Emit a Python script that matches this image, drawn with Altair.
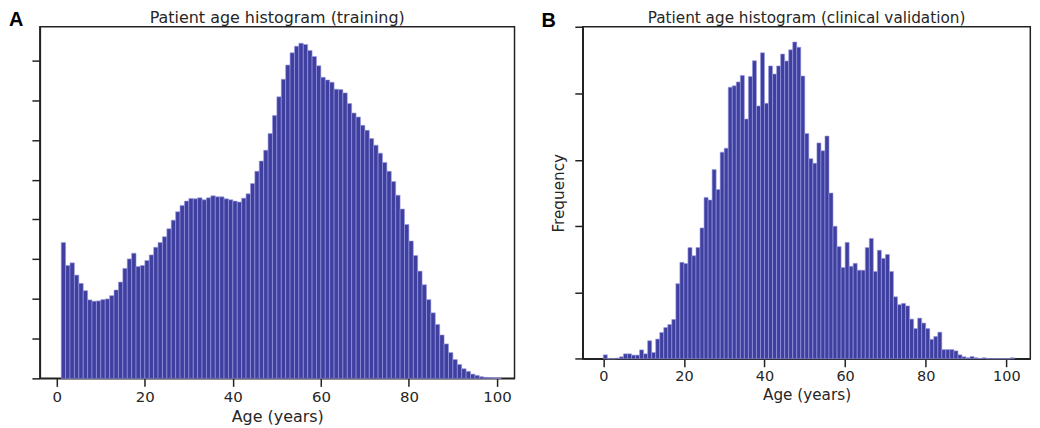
import altair as alt
import pandas as pd

# Bar heights, one value per 1-year bin
train_ages = list(range(1, 101))
train_freq = [
    136.7, 113.7, 116.3, 104, 95.7, 88.3, 79, 77.7, 78, 79.3,
    80, 83.3, 89, 97, 110.7, 120.3, 126, 112.7, 113.7, 118.7,
    124.3, 132, 136.7, 142.7, 150.7, 159.3, 167.8, 174.2, 178.5, 181.2,
    180.8, 181.8, 179.8, 181.8, 183.8, 182.8, 182.8, 180.8, 179.8, 178.5,
    177.5, 181.5, 185.8, 196.2, 208.5, 218.8, 229.8, 246.5, 264.8, 283.5,
    301.2, 315.5, 327.8, 334.5, 337.5, 336.2, 330.2, 324.2, 314.8, 303.2,
    300.5, 298.2, 291.2, 290.8, 287.5, 276.8, 267.2, 263.2, 254.8, 249.8,
    241.5, 234.8, 226.8, 217.5, 208.5, 198.2, 184.5, 170.5, 155, 138.3,
    123.7, 108, 94.3, 79.3, 66, 54.3, 43.7, 34.7, 26, 19,
    14, 9.7, 7, 4.3, 3, 1.7, 1, 0.7, 0.4, 0.2,
]

valid_ages = list(range(0, 102))
valid_freq = [
    4, 0, 0, 0.7, 2, 5, 5, 3.7, 3.7, 9,
    5, 18.3, 6.3, 20, 26.7, 31.7, 34.7, 40, 76.3, 98,
    96.7, 113, 104.7, 113, 133, 164, 161.4, 192.4, 172, 210,
    214, 276, 277.4, 281.4, 288, 243.7, 287, 303, 257, 311,
    259.7, 297.7, 289.4, 297.7, 309.7, 302.7, 314, 322, 316.7, 287.4,
    229, 203.4, 198.7, 219.4, 211.4, 226.4, 168.4, 134.7, 114, 92.7,
    118.3, 94, 97, 90, 90, 113, 122.3, 88.7, 110.3, 102,
    106, 88.7, 63, 55, 56.3, 53.7, 40.3, 30.7, 41.3, 36.3,
    30.7, 19.7, 22.7, 27, 9.3, 9.3, 9.3, 8, 4, 2,
    1, 2.3, 1, 0.3, 1, 0, 0, 0, 0, 0,
    0, 1,
]

x_ticks = [0, 20, 40, 60, 80, 100]
train_y_ticks = [0, 40, 80, 120, 160, 200, 240, 280, 320]
valid_y_ticks = [0, 67.4, 134.8, 202.2, 269.6, 337]

BAR = '#3f3f9f'
EDGE = '#9c9ce6'
INK = '#262626'
LINE = '#222222'
FONT = 'DejaVu Sans'


def text_layer(label, x, y, **style):
    return alt.Chart(pd.DataFrame({'t': [label]})).mark_text(
        baseline='alphabetic', **style
    ).encode(text='t:N', x=alt.value(x), y=alt.value(y))


def panel(ages, freq, title, letter, x_dom, y_dom, y_ticks, y_title, w, h,
          title_y, title_size, label_size, letter_x, letter_y):
    df = pd.DataFrame({'age': ages, 'freq': freq})
    df['age_end'] = df['age'] + 1
    df['base'] = 0
    bars = alt.Chart(df).mark_bar(fill=BAR, stroke=EDGE, strokeWidth=0.6, orient='vertical').encode(
        x=alt.X('age:Q',
                scale=alt.Scale(domain=x_dom, nice=False, zero=False, padding=0),
                axis=alt.Axis(values=x_ticks, title='Age (years)', grid=False,
                              labelFontSize=label_size, titleFontSize=title_size)),
        x2='age_end:Q',
        y=alt.Y('freq:Q',
                scale=alt.Scale(domain=y_dom, nice=False, padding=0),
                axis=alt.Axis(values=y_ticks, title=y_title, labels=False, grid=False,
                              titleFontSize=title_size, titlePadding=8)),
        y2='base:Q',
    )
    head = text_layer(title, w / 2, title_y, font=FONT, fontSize=title_size,
                      color=INK, align='center')
    tag = text_layer(letter, letter_x, letter_y, font='Liberation Sans', fontSize=20,
                     fontWeight='bold', color='black', align='left')
    return alt.layer(bars, head, tag).properties(width=w, height=h)


a = panel(train_ages, train_freq, 'Patient age histogram (training)', 'A',
          [-3.85, 104], [0, 354.1], train_y_ticks, None, 476.5, 353,
          -3.7, 16, 15, -31, -0.5)
b = panel(valid_ages, valid_freq, 'Patient age histogram (clinical validation)', 'B',
          [-5.1, 105.95], [0, 337.5], valid_y_ticks, 'Frequency', 449.3, 333.3,
          -3.5, 15.3, 14.5, -41.3, 0.7)

chart = alt.hconcat(a, b, spacing=24, bounds='full').properties(
    padding=0
).configure_view(
    stroke=LINE, strokeWidth=1.5
).configure_axis(
    domainColor=LINE, domainWidth=1.5, tickColor=LINE, tickWidth=1.5,
    tickSize=8, labelFont=FONT, labelColor=INK, labelPadding=3,
    titleFont=FONT, titleColor=INK, titleFontWeight='normal', titlePadding=4
)

chart.save("out.html", embed_options={"renderer": "svg", "actions": False})
